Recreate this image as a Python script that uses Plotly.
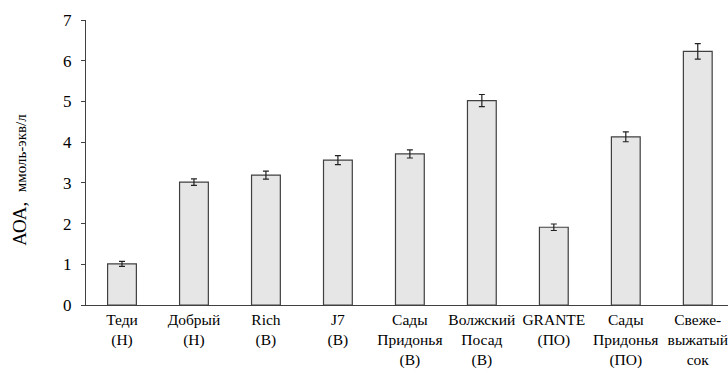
import plotly.graph_objects as go

categories = ["Теди<br>(Н)", "Добрый<br>(Н)", "Rich<br>(В)", "J7<br>(В)",
              "Сады<br>Придонья<br>(В)", "Волжский<br>Посад<br>(В)", "GRANTE<br>(ПО)",
              "Сады<br>Придонья<br>(ПО)", "Свеже-<br>выжатый<br>сок"]
values = [1.01, 3.02, 3.19, 3.56, 3.71, 5.02, 1.91, 4.13, 6.23]
errors = [0.06, 0.08, 0.10, 0.11, 0.10, 0.15, 0.08, 0.12, 0.19]
yticks = [0, 1, 2, 3, 4, 5, 6, 7]

axis_color = "#404040"
font_family = "Liberation Serif"

fig = go.Figure()
fig.add_trace(go.Bar(
    x=categories,
    y=values,
    width=0.4,
    marker=dict(color="#e6e6e6", line=dict(color=axis_color, width=1.2)),
    error_y=dict(type="data", array=errors, visible=True, color="#222222",
                 thickness=1.2, width=3),
))

fig.update_layout(
    width=728, height=369,
    margin=dict(l=86, r=0, t=20, b=62),
    paper_bgcolor="white", plot_bgcolor="white",
    showlegend=False,
    font=dict(family=font_family, color="black", size=15),
    bargap=0.6,
)
fig.update_xaxes(
    type="category",
    range=[-0.5, 8.42], showline=True, linecolor=axis_color, linewidth=1.2,
    ticks="", showgrid=False, zeroline=False,
    tickfont=dict(family=font_family, size=15.5, color="black"),
)
fig.update_yaxes(
    range=[0, 7], tickvals=yticks, showline=True, linecolor=axis_color, linewidth=1.2,
    ticks="outside", ticklen=4, tickcolor=axis_color, showgrid=False, zeroline=False,
    tickfont=dict(family=font_family, size=17, color="black"),
    ticklabelstandoff=6,
)
fig.add_annotation(
    text="АОА,  <span style='font-size:15px'>ммоль-экв/л</span>",
    xref="paper", yref="paper", x=-0.104, y=0.44, xanchor="center", yanchor="middle",
    textangle=-90, showarrow=False,
    font=dict(family=font_family, size=19, color="black"),
)

fig.write_html("out.html")
